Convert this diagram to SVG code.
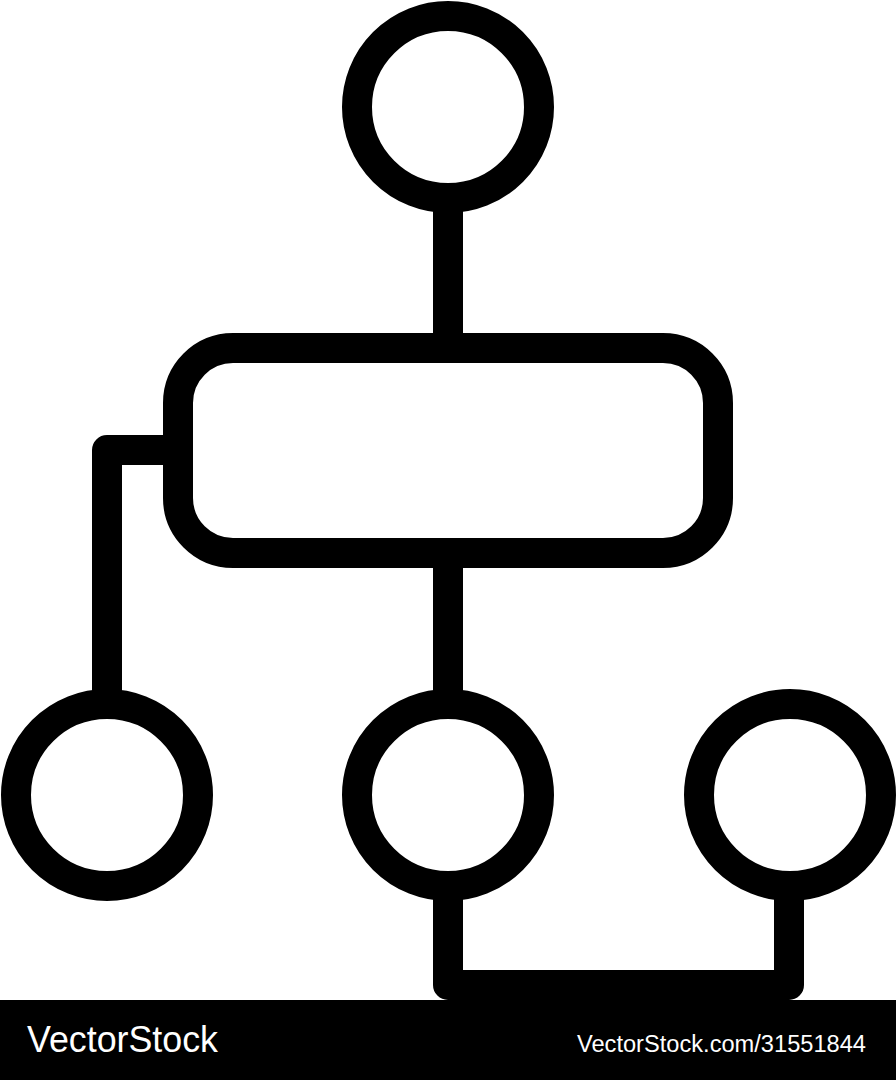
<svg xmlns="http://www.w3.org/2000/svg" width="896" height="1080" viewBox="0 0 896 1080">
  <style>
    .n { fill: #fff; stroke: #000; stroke-width: 30; }
    .c { fill: none; stroke: #000; stroke-width: 30; stroke-linejoin: round; stroke-linecap: butt; }
    .wm { fill: #fff; font-family: "Liberation Sans", Arial, sans-serif; }
  </style>
  <rect x="0" y="0" width="896" height="1080" fill="#fff"/>
  <g id="connectors">
    <path class="c" d="M448,198 V348"/>
    <path class="c" d="M178,450 H107 V704"/>
    <path class="c" d="M448,553 V704"/>
    <path class="c" d="M448,886 V985 H789 V886"/>
  </g>
  <g id="node-top"><circle class="n" cx="448" cy="107" r="91"/></g>
  <g id="node-box"><rect class="n" x="178" y="348" width="540" height="205" rx="55" ry="55"/></g>
  <g id="node-left"><circle class="n" cx="107" cy="795" r="91"/></g>
  <g id="node-middle"><circle class="n" cx="448" cy="795" r="91"/></g>
  <g id="node-right"><circle class="n" cx="790" cy="795" r="91"/></g>
  <g id="watermark">
    <rect x="0" y="1000" width="896" height="80" fill="#000"/>
    <text class="wm" x="27" y="1052" font-size="37" textLength="191" lengthAdjust="spacingAndGlyphs">VectorStock</text>
    <text class="wm" x="577" y="1052" font-size="23.5" textLength="289" lengthAdjust="spacingAndGlyphs">VectorStock.com/31551844</text>
  </g>
</svg>
